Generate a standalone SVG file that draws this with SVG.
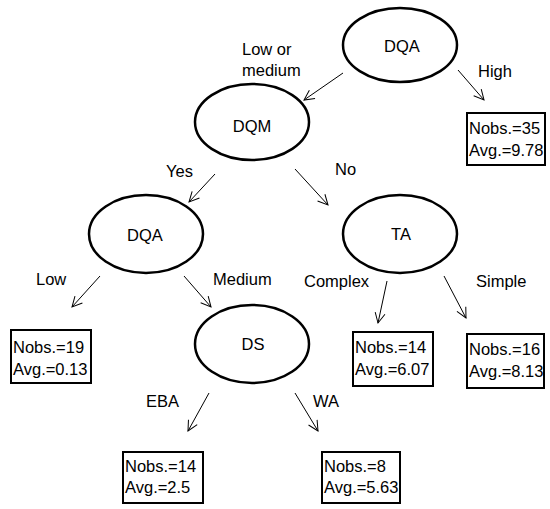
<svg xmlns="http://www.w3.org/2000/svg" width="550" height="509" viewBox="0 0 550 509">
<style>
text{font-family:"Liberation Sans",Arial,sans-serif;font-size:16.5px;fill:#000}
.node ellipse{fill:#fff;stroke:#000;stroke-width:2.5}
.leaf rect{fill:#fff;stroke:#000;stroke-width:2}
.edge{stroke:#000;stroke-width:1;fill:none;marker-end:url(#arr)}
.mid{text-anchor:middle}
</style>
<defs>
<marker id="arr" viewBox="0 0 12 12" refX="11" refY="6" markerWidth="12" markerHeight="12" markerUnits="userSpaceOnUse" orient="auto">
<path d="M1,1 L11,6 L1,11" fill="none" stroke="#000" stroke-width="1"/>
</marker>
</defs>
<rect width="550" height="509" fill="#fff"/>
<g id="connectors">
<line class="edge" x1="343" y1="73" x2="304" y2="100"/>
<line class="edge" x1="458" y1="70" x2="484" y2="100"/>
<line class="edge" x1="215" y1="174" x2="189" y2="202"/>
<line class="edge" x1="295" y1="169" x2="328" y2="205"/>
<line class="edge" x1="100" y1="276" x2="72" y2="307"/>
<line class="edge" x1="184" y1="276" x2="211" y2="307"/>
<line class="edge" x1="387" y1="281" x2="378" y2="323"/>
<line class="edge" x1="444" y1="276" x2="466" y2="318"/>
<line class="edge" x1="209" y1="393" x2="188" y2="431"/>
<line class="edge" x1="295" y1="393" x2="318" y2="431"/>
</g>
<g id="labels">
<text x="242" y="55">Low or</text>
<text x="242" y="76">medium</text>
<text x="478" y="77">High</text>
<text x="166" y="177">Yes</text>
<text x="335" y="175">No</text>
<text x="36" y="285">Low</text>
<text x="213" y="285">Medium</text>
<text x="304" y="287">Complex</text>
<text x="476" y="287">Simple</text>
<text x="146" y="407">EBA</text>
<text x="313" y="407">WA</text>
</g>
<g id="n_dqa_root" class="node"><ellipse cx="400" cy="45" rx="57" ry="37"/><text class="mid" x="402" y="52">DQA</text></g>
<g id="n_dqm" class="node"><ellipse cx="252" cy="122" rx="57" ry="38"/><text class="mid" x="252" y="132">DQM</text></g>
<g id="n_dqa2" class="node"><ellipse cx="146" cy="234" rx="57" ry="39"/><text class="mid" x="145" y="241">DQA</text></g>
<g id="n_ta" class="node"><ellipse cx="400" cy="234" rx="57" ry="39"/><text class="mid" x="401" y="240">TA</text></g>
<g id="n_ds" class="node"><ellipse cx="252" cy="344" rx="57" ry="39"/><text class="mid" x="253" y="350">DS</text></g>
<g id="leaf_high" class="leaf"><rect x="467" y="113" width="78" height="52"/><text x="469" y="134">Nobs.=35</text><text x="469" y="156">Avg.=9.78</text></g>
<g id="leaf_low" class="leaf"><rect x="11" y="330" width="80" height="53"/><text x="13" y="353">Nobs.=19</text><text x="13" y="375">Avg.=0.13</text></g>
<g id="leaf_complex" class="leaf"><rect x="353" y="332" width="80" height="54"/><text x="355" y="353">Nobs.=14</text><text x="355" y="375">Avg.=6.07</text></g>
<g id="leaf_simple" class="leaf"><rect x="467" y="334" width="77" height="54"/><text x="469" y="355">Nobs.=16</text><text x="469" y="377">Avg.=8.13</text></g>
<g id="leaf_eba" class="leaf"><rect x="123" y="452" width="80" height="51"/><text x="125" y="472">Nobs.=14</text><text x="125" y="493">Avg.=2.5</text></g>
<g id="leaf_wa" class="leaf"><rect x="322" y="452" width="78" height="51"/><text x="324" y="472">Nobs.=8</text><text x="324" y="493">Avg.=5.63</text></g>
</svg>
